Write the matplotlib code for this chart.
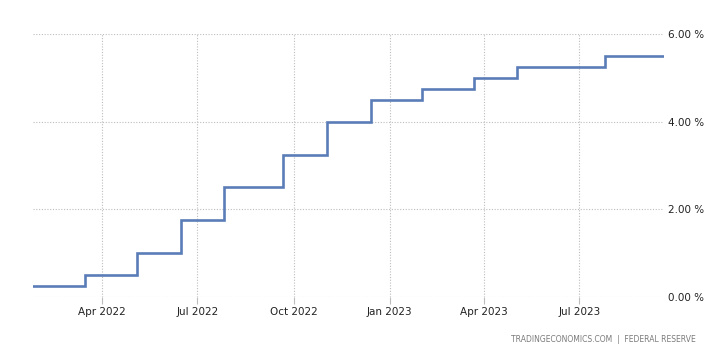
import matplotlib
matplotlib.use("Agg")
import matplotlib.pyplot as plt
import pandas as pd

# Step change dates (new upper-bound rate from that date on)
change_dates = ["2022-01-25", "2022-03-16", "2022-05-04", "2022-06-15", "2022-07-27",
                "2022-09-21", "2022-11-02", "2022-12-14", "2023-02-01", "2023-03-22",
                "2023-05-03", "2023-07-26"]
rates = [0.25, 0.50, 1.00, 1.75, 2.50, 3.25, 4.00, 4.50, 4.75, 5.00, 5.25, 5.50]
end_date = "2023-09-20"

x_ticks = ["2022-04-01", "2022-07-01", "2022-10-01", "2023-01-01", "2023-04-01", "2023-07-01"]
x_tick_labels = ["Apr 2022", "Jul 2022", "Oct 2022", "Jan 2023", "Apr 2023", "Jul 2023"]
y_ticks = [0, 2, 4, 6]
y_tick_labels = ["0.00 %", "2.00 %", "4.00 %", "6.00 %"]
footer = "TRADINGECONOMICS.COM  |  FEDERAL RESERVE"

plt.rcParams['font.family'] = ['DejaVu Sans']

W, H = 722, 352
fig = plt.figure(figsize=(W / 100, H / 100), dpi=100)
left, right, top, bottom = 33, 664, 34, 297
ax = fig.add_axes([left / W, 1 - bottom / H, (right - left) / W, (bottom - top) / H])

dates = pd.to_datetime(change_dates + [end_date])
vals = rates + [rates[-1]]
ax.step(dates, vals, where="post", color="#5a7db8", linewidth=1.9, solid_joinstyle="miter")

ax.set_xlim(pd.Timestamp(change_dates[0]), pd.Timestamp(end_date))
ax.set_ylim(0, 6)

ax.set_xticks(pd.to_datetime(x_ticks))
ax.set_xticklabels(x_tick_labels)
ax.set_yticks(y_ticks)
ax.set_yticklabels(y_tick_labels)
ax.yaxis.tick_right()

for s in ax.spines.values():
    s.set_visible(False)

ax.grid(True, which="major", axis="both", color="#bdbdbd", linestyle=(0, (1, 1.5)), linewidth=0.8)
ax.set_axisbelow(True)
ax.tick_params(axis="x", length=5, color="#bdbdbd", pad=2, labelsize=7.5, labelcolor="#222222")
ax.tick_params(axis="y", length=0, pad=3, labelsize=7.5, labelcolor="#222222")

fig.text(696 / W, 1 - 339 / H, footer, ha="right", va="center", fontsize=5.5, color="#7a7a7a")

fig.savefig("out.png", dpi=100)
